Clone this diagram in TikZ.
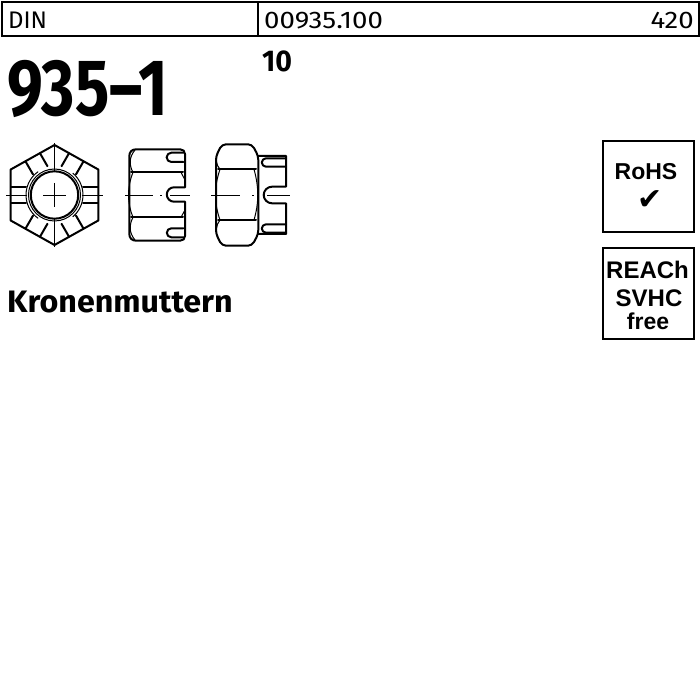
\documentclass[tikz,border=0pt]{standalone}
\usepackage{fontspec}
\setmainfont{Fira Sans}
\newfontfamily\labelfont{Liberation Sans}
\newfontfamily\symbolfont{DejaVu Sans}
\tikzset{
    nutline/.style={line width=2pt,line join=round,line cap=round},
    thinline/.style={line width=1pt},
    axisline/.style={line width=0.6pt},
    framebox/.style={draw,line width=1.8pt},
    headtext/.style={anchor=base west,inner sep=0pt,font=\fontsize{24}{24}\selectfont,xscale=1.15},
    badgetext/.style={inner sep=0pt,font=\labelfont\bfseries\fontsize{23}{23}\selectfont}
}
\begin{document}
\begin{tikzpicture}[x=1pt,y=-1pt]
    \useasboundingbox (0,0) rectangle (700,700);

    % draw the header row
    \draw[framebox] (2,2) rectangle (258,36);
    \draw[framebox] (258,2) rectangle (699,36);
    \node[headtext,xscale=.87] (din) at (8,29) {DIN};
    \node[headtext] (article) at (264,29) {00935.100};
    \node[headtext,anchor=base east] (amount) at (694,29) {420};

    % draw the titles
    \node[anchor=base west,inner sep=0pt,font=\bfseries\fontsize{80}{80}\selectfont,xscale=.8] (norm) at (7,116) {935--1};
    \node[anchor=base west,inner sep=0pt,font=\bfseries\fontsize{30}{30}\selectfont,xscale=.95] (grade) at (262,72) {10};
    \node[anchor=base west,inner sep=0pt,font=\bfseries\fontsize{31}{31}\selectfont,xscale=1.04] (name) at (7,312) {Kronenmuttern};

    % draw the badges
    \draw[framebox] (603,141) rectangle (694,232);
    \node[badgetext] (rohs) at (646,172) {RoHS};
    \node[inner sep=0pt,font=\symbolfont\fontsize{30}{30}\selectfont] (check) at (650,200) {✔};
    \draw[framebox] (603,248) rectangle (694,339);
    \node[badgetext,font=\labelfont\bfseries\fontsize{24}{24}\selectfont] (reach) at (647.5,270) {REACh};
    \node[badgetext,font=\labelfont\bfseries\fontsize{24}{24}\selectfont] (svhc) at (649,298) {SVHC};
    \node[badgetext] (free) at (648,321) {free};

    % draw the top view
    \begin{scope}
        \clip (54.5,145) -- (98.3,169.5) -- (98.3,220.5) -- (54.5,245) -- (10.7,220.5) -- (10.7,169.5) -- cycle;
        \foreach \a in {0,60,...,300} {
            % slot lines from the hexagon to the ring
            \begin{scope}[shift={(54.5,195)},rotate=\a]
                \draw[nutline] (28.5,-8.3) -- (50,-8.3);
                \draw[nutline] (28.5,8.3) -- (50,8.3);
            \end{scope}
        }
    \end{scope}
    \draw[nutline] (54.5,145) -- (98.3,169.5) -- (98.3,220.5) -- (54.5,245) -- (10.7,220.5) -- (10.7,169.5) -- cycle;
    \draw[nutline] (54.5,195) circle (23.7);
    \draw[thinline] (54.5,195) circle (26);
    \draw[thinline] (54.5,195) ++(125:28.5) arc (125:235:28.5);
    \draw[thinline] (54.5,195) ++(-50:28.5) arc (-50:50:28.5);

    % draw the centre lines of the top view
    \draw[axisline] (6,195) -- (27,195);
    \draw[axisline] (82,195) -- (103,195);
    \draw[axisline] (43,195) -- (66,195);
    \draw[axisline] (54.5,143) -- (54.5,171);
    \draw[axisline] (54.5,183) -- (54.5,207);
    \draw[axisline] (54.5,219) -- (54.5,247);

    % draw the first side view
    \draw[nutline] (185,187.3) -- (174,187.3) arc (270:90:7.2) -- (185,201.7)
        -- (185,236) .. controls (185,239) and (183,240.7) .. (180,240.7)
        -- (136,240.7) .. controls (132,240.7) and (129.3,238) .. (129.3,234)
        -- (129.3,156) .. controls (129.3,152) and (132,149.3) .. (136,149.3)
        -- (180,149.3) .. controls (183,149.3) and (185,151) .. (185,154) -- cycle;
    \draw[nutline] (131,172.3) -- (183,172.3);
    \draw[nutline] (131,217.3) -- (183,217.3);
    \draw[nutline] (183.3,152.7) -- (171.3,152.7) arc (270:90:4.65) -- (183.3,162);
    \draw[nutline] (183.3,228.3) -- (171.3,228.3) arc (270:90:4.5) -- (183.3,237.3);
    \draw[thinline] (133,172.3) .. controls (127,187) and (127,203) .. (133,217.3);
    \draw[thinline] (181,172.3) -- (185,180);
    \draw[thinline] (181,217.3) -- (185,210);
    \draw[thinline] (135,150) .. controls (129,157) and (129,165) .. (133,172.3);
    \draw[thinline] (133,217.3) .. controls (129,225) and (129,233) .. (135,240);

    % draw the second side view
    \draw[nutline,rounded corners=4pt] (222,144.3) -- (252,144.3) -- (258.3,156) -- (258.3,234) -- (252,245.7)
        -- (222,245.7) -- (216,234) -- (216,156) -- cycle;
    \draw[nutline] (218,169.3) -- (256,169.3);
    \draw[nutline] (218,220) -- (256,220);
    \draw[nutline] (258.3,156) -- (286,156) -- (286,186.7) -- (272,186.7)
        arc (270:90:8.3) -- (286,203.3) -- (286,234) -- (258.3,234);
    \draw[nutline] (286,158.3) -- (266,158.3) arc (270:90:4.2) -- (286,166.7);
    \draw[nutline] (286,224.3) -- (266,224.3) arc (270:90:4.2) -- (286,232.7);
    \draw[thinline] (220,169.3) .. controls (214,187) and (214,203) .. (220,220);
    \draw[thinline] (254,169.3) .. controls (259,187) and (259,203) .. (254,220);
    \draw[thinline] (218,152) .. controls (215,158) and (216,165) .. (220,169.3);
    \draw[thinline] (218,238) .. controls (215,232) and (216,225) .. (220,220);

    % draw the centre lines of the side views
    \draw[axisline] (125,195) -- (153,195);
    \draw[axisline] (160,195) -- (162,195);
    \draw[axisline] (170,195) -- (190,195);
    \draw[axisline] (211,195) -- (240,195);
    \draw[axisline] (252,195) -- (254,195);
    \draw[axisline] (267,195) -- (290,195);
\end{tikzpicture}
\end{document}
